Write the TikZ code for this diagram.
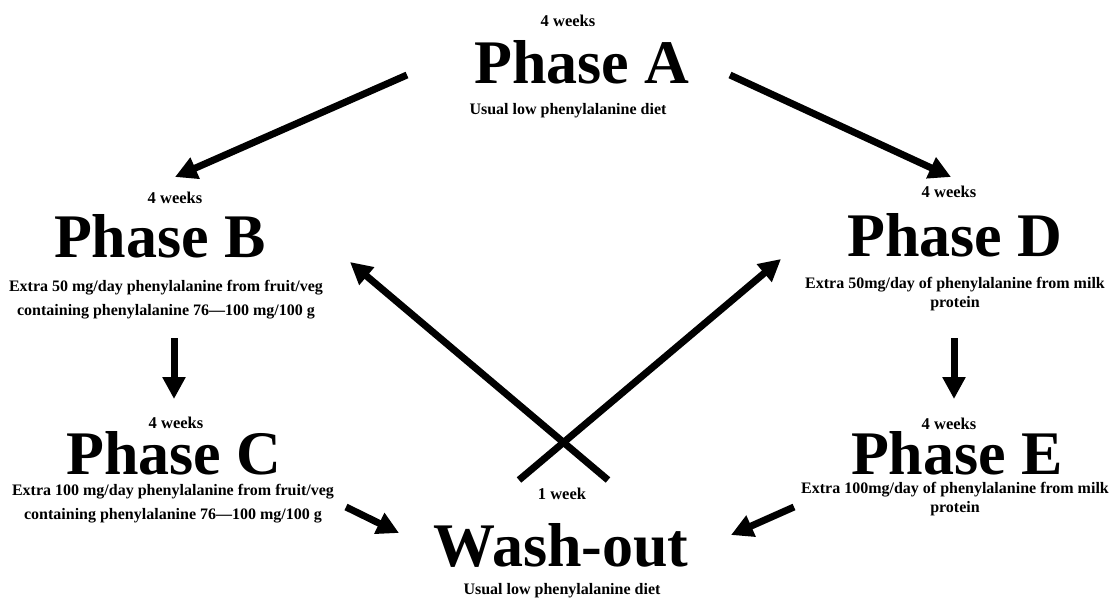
\documentclass[tikz,border=0pt]{standalone}
\usepackage{fontspec}
\setmainfont{Liberation Serif}
\usetikzlibrary{arrows.meta}
\tikzset{
  wk/.style={anchor=base, inner sep=0pt, font=\fontsize{16.5}{18}\selectfont\bfseries},
  ttl/.style={anchor=base, inner sep=0pt, text height=41pt, text depth=0pt, font=\fontsize{62}{70}\selectfont\bfseries},
  dsc/.style={anchor=base, inner sep=0pt, align=center, font=\fontsize{16}{24}\selectfont\bfseries},
  dscb/.style={anchor=base, inner sep=0pt, align=center, font=\fontsize{16}{19}\selectfont\bfseries},
  arr/.style={line width=7pt, -{Triangle[length=22pt,width=22pt]}}
}
\begin{document}
\begin{tikzpicture}[x=1pt,y=-1pt]
\useasboundingbox[fill=white] (0,0) rectangle (1110,597);
% Phase A
\node[wk]  (wa) at (568,27) {4 weeks};
\node[ttl] (ta) at (582,83) {Phase A};
\node[dsc] (da) at (568,114) {Usual low phenylalanine diet};
% Phase B
\node[wk]  (wb) at (175,203) {4 weeks};
\node[ttl] (tb) at (160,257) {Phase B};
\node[dsc] (db) at (166,315) {Extra 50 mg/day phenylalanine from fruit/veg\\containing phenylalanine 76\textemdash100 mg/100 g};
% Phase C
\node[wk]  (wc) at (176,428) {4 weeks};
\node[ttl] (tc) at (174,474) {Phase C};
\node[dsc] (dc) at (173,519) {Extra 100 mg/day phenylalanine from fruit/veg\\containing phenylalanine 76\textemdash100 mg/100 g};
% Phase D
\node[wk]  (wd) at (949,197) {4 weeks};
\node[ttl] (td) at (955,256) {Phase D};
\node[dscb] (dd) at (955,307) {Extra 50mg/day of phenylalanine from milk\\protein};
% Phase E
\node[wk]  (we) at (949,429) {4 weeks};
\node[ttl] (te) at (957,474) {Phase E};
\node[dscb] (de) at (955,512) {Extra 100mg/day of phenylalanine from milk\\protein};
% Wash-out
\node[wk]  (ww) at (562,499) {1 week};
\node[ttl] (tw) at (561,566) {Wash-out};
\node[dsc] (dw) at (562,594) {Usual low phenylalanine diet};
% arrow end points
\coordinate (a1s) at (407,75);  \coordinate (a1e) at (175,177);
\coordinate (a2s) at (730,75);  \coordinate (a2e) at (951,177);
\coordinate (b1s) at (174,338); \coordinate (b1e) at (174,399);
\coordinate (d1s) at (954,338); \coordinate (d1e) at (954,399);
\coordinate (c1s) at (346,507); \coordinate (c1e) at (399,533);
\coordinate (e1s) at (794,507); \coordinate (e1e) at (731,535);
\coordinate (w1s) at (608,480); \coordinate (w1e) at (350,262);
\coordinate (w2s) at (519,480); \coordinate (w2e) at (781,259);
\draw[arr] (a1s) -- (a1e);
\draw[arr] (a2s) -- (a2e);
\draw[arr] (b1s) -- (b1e);
\draw[arr] (d1s) -- (d1e);
\draw[arr] (c1s) -- (c1e);
\draw[arr] (e1s) -- (e1e);
\draw[arr] (w1s) -- (w1e);
\draw[arr] (w2s) -- (w2e);
\end{tikzpicture}
\end{document}
